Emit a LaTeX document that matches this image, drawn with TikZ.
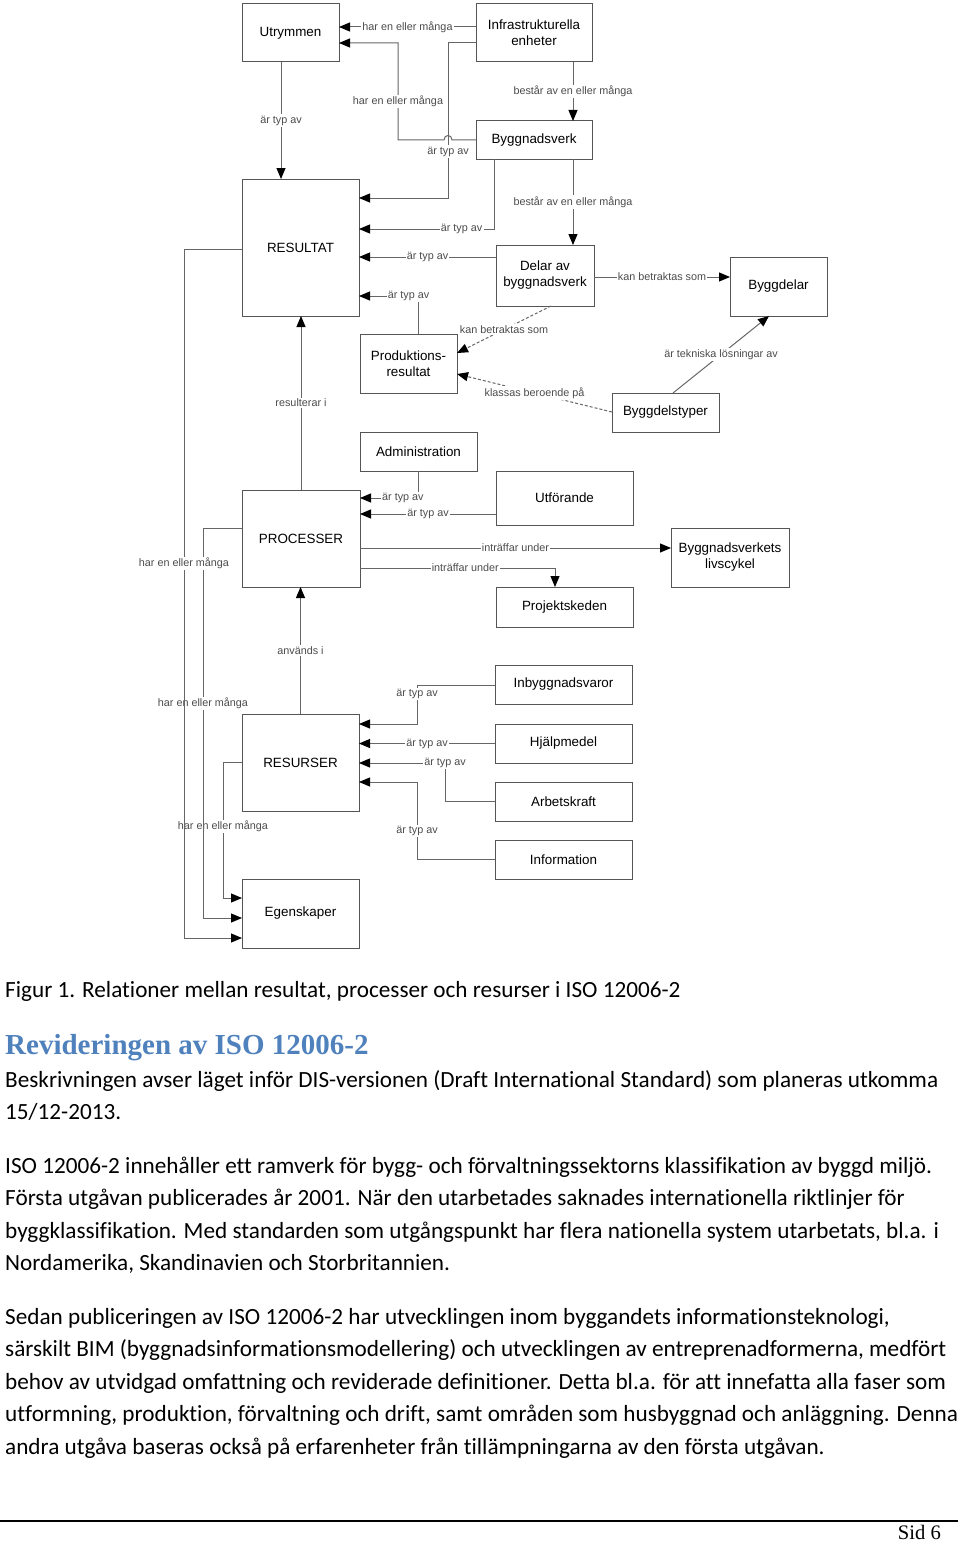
\documentclass[tikz,border=0pt]{standalone}
\usepackage{fontspec}
\setmainfont{Carlito}[Ligatures=NoCommon]
\newfontfamily\diafont{Liberation Sans}
\newfontfamily\headfont{Liberation Serif}
\usetikzlibrary{arrows.meta}
\definecolor{linegray}{HTML}{666666}
\definecolor{boxgray}{HTML}{555555}
\definecolor{lblgray}{HTML}{4C4C4C}
\definecolor{headblue}{HTML}{4F81BD}
\begin{document}
\begin{tikzpicture}[x=1pt,y=-1pt,
  box/.style={draw=boxgray,line width=1pt,fill=white,inner sep=1pt,outer sep=0pt,
    align=center,font=\diafont\fontsize{13.4}{16}\selectfont},
  rel/.style={draw=linegray,line width=1pt,-{Triangle[length=11pt,width=9pt,color=black]}},
  lbl/.style={fill=white,inner sep=1.2pt,text=lblgray,font=\diafont\fontsize{10.8}{12}\selectfont},
  txt/.style={anchor=base west,inner sep=0pt,font=\fontsize{23.2}{28}\selectfont}]
\useasboundingbox (0,0) rectangle (960,1544);
% boxes
\node[box,minimum width=97pt,minimum height=58pt] (utr) at (290.5,33) {Utrymmen};
\node[box,minimum width=116pt,minimum height=58pt] (inf) at (534,33) {Infrastrukturella\\enheter};
\node[box,minimum width=116pt,minimum height=38pt] (byg) at (534,140) {Byggnadsverk};
\node[box,minimum width=117pt,minimum height=137pt] (res) at (300.5,247.5) {RESULTAT};
\node[box,minimum width=98pt,minimum height=61pt] (del) at (545,275.5) {Delar av\\byggnadsverk};
\node[box,minimum width=97pt,minimum height=59pt] (bdl) at (778.5,286.5) {Byggdelar};
\node[box,minimum width=97pt,minimum height=59pt] (prod) at (408.5,363.5) {Produktions-\\resultat};
\node[box,minimum width=107pt,minimum height=39pt] (bdt) at (665.5,412.5) {Byggdelstyper};
\node[box,minimum width=117pt,minimum height=39pt] (adm) at (418.5,451.5) {Administration};
\node[box,minimum width=118pt,minimum height=97pt] (proc) at (301,538.5) {PROCESSER};
\node[box,minimum width=137pt,minimum height=54pt] (utf) at (564.5,498) {Utförande};
\node[box,minimum width=118pt,minimum height=59pt] (lvc) at (730,557.5) {Byggnadsverkets\\livscykel};
\node[box,minimum width=137pt,minimum height=40pt] (prj) at (564.5,607) {Projektskeden};
\node[box,minimum width=137pt,minimum height=39pt] (inb) at (563.5,684.5) {Inbyggnadsvaror};
\node[box,minimum width=117pt,minimum height=97pt] (rsr) at (300.5,762.5) {RESURSER};
\node[box,minimum width=137pt,minimum height=39pt] (hjm) at (563.5,743.5) {Hjälpmedel};
\node[box,minimum width=137pt,minimum height=39pt] (arb) at (563.5,801.5) {Arbetskraft};
\node[box,minimum width=137pt,minimum height=39pt] (info) at (563.5,859.5) {Information};
\node[box,minimum width=117pt,minimum height=69pt] (egn) at (300.5,913.5) {Egenskaper};
% top part
\draw[rel] (inf.west |- 0,27) -- node[lbl]{har en eller många} (utr.east |- 0,27);
\draw[rel] (inf.west |- 0,43) -- (448,43) -- node[lbl,pos=0.7]{är typ av} (448,198) -- (res.east |- 0,198);
\draw[rel] (byg.west) -- (452,140) .. controls (452,134) and (444,134) .. (444,140) -- (398,140)
  -- node[lbl,pos=0.4]{har en eller många} (398,43) -- (utr.east |- 0,43);
\draw[rel] (utr.south -| 281,0) -- node[lbl]{är typ av} (res.north -| 281,0);
\draw[rel] (inf.south -| 573,0) -- node[lbl]{består av en eller många} (byg.north -| 573,0);
\draw[rel] (byg.south -| 573,0) -- node[lbl]{består av en eller många} (del.north -| 573,0);
\draw[rel] (byg.south -| 494,0) |- node[lbl,pos=0.62]{är typ av} (res.east |- 0,229);
\draw[rel] (del.west |- 0,257) -- node[lbl]{är typ av} (res.east |- 0,257);
\draw[rel] (prod.north -| 418,0) |- node[lbl,pos=0.58]{är typ av} (res.east |- 0,296);
\draw[rel] (del.east |- 0,277) -- node[lbl]{kan betraktas som} (bdl.west |- 0,277);
\draw[rel,dash pattern=on 3pt off 2pt] (del.south -| 551,0) -- node[lbl]{kan betraktas som} (prod.east |- 0,353);
\draw[rel,dash pattern=on 3pt off 2pt] (bdt.west |- 0,412) -- node[lbl]{klassas beroende på} (prod.east |- 0,374);
\draw[rel] (bdt.north -| 673,0) -- node[lbl]{är tekniska lösningar av} (bdl.south -| 769,0);
% processer
\draw[rel] (proc.north) -- node[lbl]{resulterar i} (proc.north |- res.south);
\draw[rel] (adm.south -| 418,0) |- node[lbl,pos=0.63]{är typ av} (proc.east |- 0,498);
\draw[rel] (utf.west |- 0,514) -- node[lbl]{är typ av} (proc.east |- 0,514);
\draw[rel] (proc.east |- 0,548) -- node[lbl]{inträffar under} (lvc.west |- 0,548);
\draw[rel] (proc.east |- 0,568) -| node[lbl,pos=0.27]{inträffar under} (prj.north -| 555,0);
% resurser
\draw[rel] (rsr.north) -- node[lbl]{används i} (rsr.north |- proc.south);
\draw[rel] (inb.west |- 0,685) -| node[lbl,pos=0.615]{är typ av} (417,724) -- (rsr.east |- 0,724);
\draw[rel] (hjm.west) -- node[lbl]{är typ av} (rsr.east |- hjm.west);
\draw[rel] (arb.west) -| (445,763) node[lbl]{är typ av} -- (rsr.east |- 0,763);
\draw[rel] (info.west) -| node[lbl,pos=0.685]{är typ av} (417,782) -- (rsr.east |- 0,782);
% egenskaper
\draw[rel] (rsr.west) -- (223,762.5) -- node[lbl,pos=0.47]{har en eller många} (223,898) -- (egn.west |- 0,898);
\draw[rel] (proc.west |- 0,528) -- (203,528) -- node[lbl,pos=0.45]{har en eller många} (203,918) -- (egn.west |- 0,918);
\draw[rel] (res.west |- 0,249) -- (184,249) -- node[lbl,pos=0.456]{har en eller många} (184,938) -- (egn.west |- 0,938);
% text below
\node[txt] (cap) at (5,997) {Figur 1. Relationer mellan resultat, processer och resurser i ISO 12006-2};
\node[txt,font=\headfont\bfseries\fontsize{29}{34}\selectfont,text=headblue] (head) at (5,1054.5) {Revideringen av ISO 12006-2};
\node[txt] (p1a) at (5,1087.5) {Beskrivningen avser läget inför DIS-versionen (Draft International Standard) som planeras utkomma};
\node[txt] (p1b) at (5,1119.5) {15/12-2013.};
\node[txt] (p2a) at (5,1173.5) {ISO 12006-2 innehåller ett ramverk för bygg- och förvaltningssektorns klassifikation av byggd miljö.};
\node[txt] (p2b) at (5,1205.5) {Första utgåvan publicerades år 2001. När den utarbetades saknades internationella riktlinjer för};
\node[txt] (p2c) at (5,1238.5) {byggklassifikation. Med standarden som utgångspunkt har flera nationella system utarbetats, bl.a. i};
\node[txt] (p2d) at (5,1270.5) {Nordamerika, Skandinavien och Storbritannien.};
\node[txt] (p3a) at (5,1324.5) {Sedan publiceringen av ISO 12006-2 har utvecklingen inom byggandets informationsteknologi,};
\node[txt] (p3b) at (5,1356.5) {särskilt BIM (byggnadsinformationsmodellering) och utvecklingen av entreprenadformerna, medfört};
\node[txt] (p3c) at (5,1389.5) {behov av utvidgad omfattning och reviderade definitioner. Detta bl.a. för att innefatta alla faser som};
\node[txt] (p3d) at (5,1421.5) {utformning, produktion, förvaltning och drift, samt områden som husbyggnad och anläggning. Denna};
\node[txt] (p3e) at (5,1454.5) {andra utgåva baseras också på erfarenheter från tillämpningarna av den första utgåvan.};
% footer
\draw[line width=1.8pt] (0,1521) -- (958,1521);
\node[anchor=base east,inner sep=0pt,font=\headfont\fontsize{20.6}{24}\selectfont] (sid) at (941,1539) {Sid 6};
\end{tikzpicture}
\end{document}
